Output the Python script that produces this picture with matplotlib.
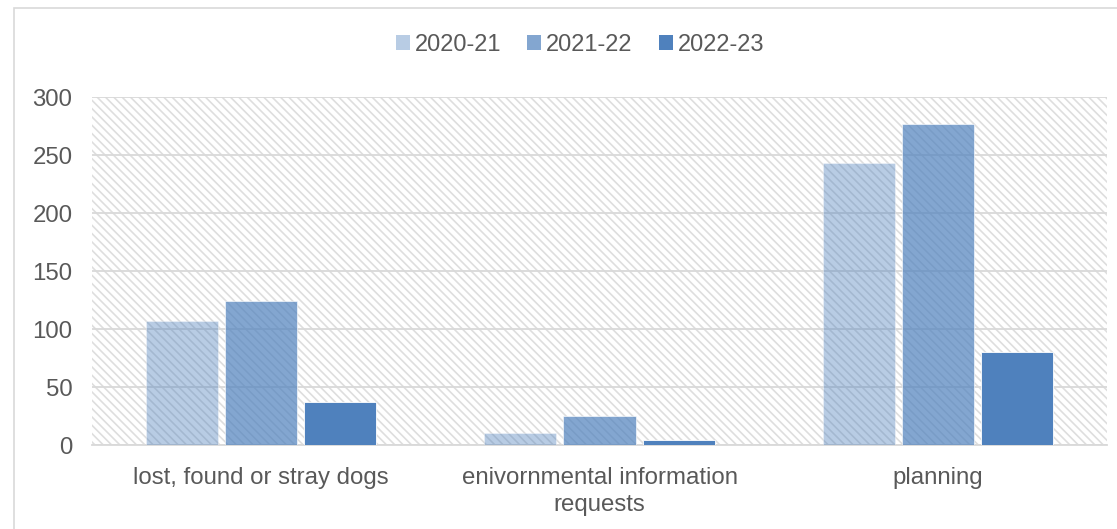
import matplotlib.pyplot as plt
import numpy as np
from matplotlib.patches import Patch, Rectangle

categories = ['lost, found or stray dogs', 'enivornmental information\nrequests', 'planning']
years = ['2020-21', '2021-22', '2022-23']
y2020 = [107, 10, 243]
y2021 = [124, 25, 277]
y2022 = [37, 4, 80]

base = '#4f81bd'
alphas = [0.4, 0.7, 1.0]
grey = '#d9d9d9'
txt = '#595959'

plt.rcParams['font.family'] = ['Liberation Sans', 'DejaVu Sans']
plt.rcParams['hatch.color'] = '#dedede'
plt.rcParams['hatch.linewidth'] = 1.2

fig = plt.figure(figsize=(11.17, 5.29), dpi=100)
ax = fig.add_axes([92/1117, 1-445/529, (1107-92)/1117, (445-97)/529])

# outer chart border
fig.add_artist(Rectangle((14/1117, -0.1), 1.2, 1.1 - 8/529, transform=fig.transFigure,
                         fill=False, edgecolor=grey, linewidth=1.2))

# hatched plot area
ax.add_patch(Rectangle((0, 0), 1, 1, transform=ax.transAxes, facecolor='white',
                       edgecolor='#dedede', linewidth=0, hatch='\\\\\\\\', zorder=0))

x = np.arange(len(categories))
w = 72/338
step = 79/338
for i, (vals, a) in enumerate(zip([y2020, y2021, y2022], alphas)):
    ax.bar(x + (i-1)*step, vals, w, color=base, alpha=a, edgecolor='white',
           linewidth=0.6, zorder=3, label=years[i])

ax.set_xlim(-0.5, 2.5)
ax.set_ylim(0, 300)
ax.set_yticks(range(0, 301, 50))
ax.yaxis.grid(True, color=grey, linewidth=1.3, zorder=1)
ax.set_axisbelow(True)
ax.set_xticks(x)
ax.set_xticklabels(categories, linespacing=1.3)
ax.tick_params(axis='both', length=0, labelsize=17.3, labelcolor=txt)
ax.tick_params(axis='y', pad=14)
ax.tick_params(axis='x', pad=16)
for s in ['top', 'right', 'left']:
    ax.spines[s].set_visible(False)
ax.spines['bottom'].set_color(grey)
ax.spines['bottom'].set_linewidth(1.3)

handles = [Patch(facecolor=base, alpha=a, edgecolor='none') for a in alphas]
fig.legend(handles, years, loc='center', bbox_to_anchor=(580/1117, 1-45/529), ncol=3,
           frameon=False, fontsize=17, labelcolor=txt, handlelength=0.6,
           handleheight=0.6, handletextpad=0.2, columnspacing=1.1)

fig.savefig('out.png', dpi=100)
